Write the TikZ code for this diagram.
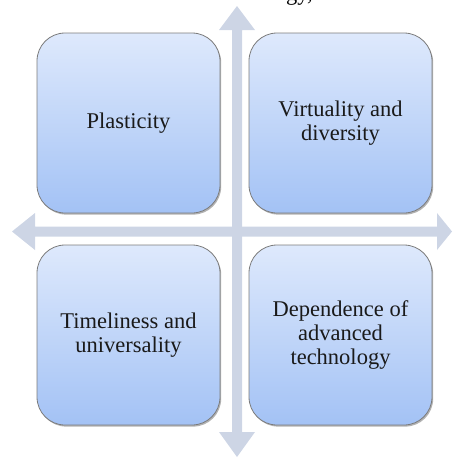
\documentclass[tikz,border=0pt]{standalone}
\usepackage{fontspec}
\setmainfont{Liberation Serif}
\newfontfamily\boxfont{Liberation Serif}
\usetikzlibrary{shadows}
\definecolor{arrowc}{HTML}{CDD5E5}
\definecolor{boxtop}{HTML}{DEE9FC}
\definecolor{boxbot}{HTML}{A3C2F5}
\definecolor{boxline}{HTML}{7C7C7C}
\definecolor{txt}{HTML}{1A1A1A}
\tikzset{
  quad/.style={rectangle, rounded corners=28pt, minimum width=183pt, minimum height=180pt,
    inner sep=0pt, top color=boxtop, bottom color=boxbot, draw=boxline, line width=0.8pt,
    drop shadow={shadow xshift=1.2pt, shadow yshift=-1.6pt, opacity=0.3, fill=black},
    align=center, text=txt, font=\boxfont\fontsize{22.5}{24}\selectfont},
  arrowshape/.style={fill=arrowc, draw=none}
}
\begin{document}
\begin{tikzpicture}[x=1pt,y=-1pt]
\clip (0,0) rectangle (453,459);
\useasboundingbox (0,0) rectangle (453,459);
% vertical double arrow
\fill[arrowshape] (232,30) -- (219,30) -- (237,6) -- (255,30) -- (242,30)
  -- (242,432) -- (255,432) -- (237,457) -- (219,432) -- (232,432) -- cycle;
% horizontal double arrow
\fill[arrowshape] (35,226.5) -- (35,213) -- (12,231.5) -- (35,250) -- (35,236.5)
  -- (437,236.5) -- (437,250) -- (452,231.5) -- (437,213) -- (437,226.5) -- cycle;
% boxes
\node[quad] (tl) at (128.5,123) {Plasticity};
\node[quad] (tr) at (340.5,123) {Virtuality and\\diversity};
\node[quad] (bl) at (128.5,335) {Timeliness and\\universality};
\node[quad] (br) at (340.5,335) {Dependence of\\advanced\\technology};
% clipped text fragment at the top edge
\node[anchor=base east, inner sep=0pt, text=black, font=\boxfont\fontsize{22.5}{24}\selectfont] (frag) at (313,0) {gy,};
\end{tikzpicture}
\end{document}
